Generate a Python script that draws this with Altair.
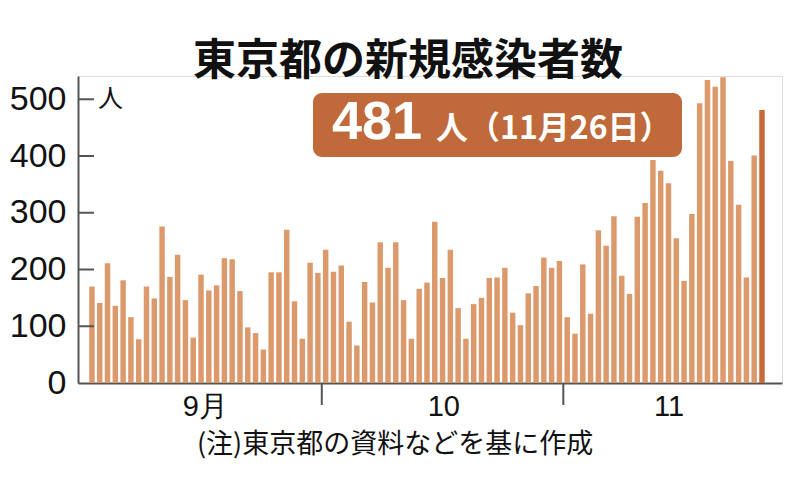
import altair as alt
import pandas as pd

# Daily new cases in Tokyo, 2020-09-01 .. 2020-11-26
sep = [170, 141, 211, 136, 181, 116, 77, 170, 149, 276, 187, 226, 146, 80, 191,
       163, 172, 220, 218, 162, 98, 88, 59, 195, 195, 270, 144, 78, 212, 194]
oct_ = [235, 196, 207, 108, 66, 178, 142, 248, 203, 248, 146, 78, 166, 177, 284,
        185, 235, 132, 78, 139, 150, 185, 186, 203, 124, 102, 158, 171, 221, 203, 215]
nov = [116, 87, 209, 122, 269, 242, 294, 189, 157, 293, 317, 393, 374, 352, 255,
       180, 298, 493, 534, 522, 539, 391, 314, 186, 401, 481]

cases = sep + oct_ + nov
dates = [f"9/{d}" for d in range(1, 31)] + [f"10/{d}" for d in range(1, 32)] + [f"11/{d}" for d in range(1, 27)]

month_labels = ["9月", "10", "11"]
month_label_pos = [14.5, 45.1, 74.0]
month_bounds = [29.5, 60.5]
y_ticks = [100, 200, 300, 400, 500]

title_text = "東京都の新規感染者数"
badge_big = "481"
badge_small = "人（11月26日）"
note_text = "(注)東京都の資料などを基に作成"
unit_text = "人"

LIGHT = "#dc9a6c"
DARK = "#c56a38"
BADGE = "#c06a3b"
AXIS = "#555555"
NUMFONT = "Liberation Sans Narrow, Arial Narrow, Liberation Sans, sans-serif"
JPFONT = "Noto Sans CJK JP"

W, H = 704, 307
XMIN, XMAX = -1.79, 88.57
YMAX = 541

df = pd.DataFrame({
    "i": list(range(len(cases))),
    "date": dates,
    "cases": cases,
})
df["x0"] = df["i"] - 0.35
df["x1"] = df["i"] + 0.35
df["zero"] = 0
df["last"] = df["i"] == len(cases) - 1

xscale = alt.Scale(domain=[XMIN, XMAX], nice=False, zero=False)
yscale = alt.Scale(domain=[0, YMAX], nice=False)

label_expr = ("datum.value < 30 ? '" + month_labels[0] + "' : (datum.value < 61 ? '"
              + month_labels[1] + "' : '" + month_labels[2] + "')")

bars = alt.Chart(df).mark_bar().encode(
    x=alt.X("x0:Q", scale=xscale,
            axis=alt.Axis(values=month_label_pos, ticks=False, grid=False,
                          domainColor=AXIS, domainWidth=2,
                          labelExpr=label_expr,
                          labelFont=NUMFONT, labelFontSize=29, labelColor="#111",
                          labelPadding=9, title=None)),
    x2="x1:Q",
    y=alt.Y("cases:Q", scale=yscale,
            axis=alt.Axis(values=[0] + y_ticks, ticks=False, grid=False,
                          domainColor=AXIS, domainWidth=2,
                          labelFont=NUMFONT, labelFontSize=34, labelColor="#111",
                          labelPadding=12, title=None)),
    y2="zero:Q",
    color=alt.condition("datum.last", alt.value(DARK), alt.value(LIGHT)),
    tooltip=["date:N", "cases:Q"],
)

ytick_df = pd.DataFrame({"v": y_ticks})
yticks = alt.Chart(ytick_df).mark_rule(color=AXIS, strokeWidth=2).encode(
    y=alt.Y("v:Q", scale=yscale),
    x=alt.value(0), x2=alt.value(16),
)

unit = alt.Chart(pd.DataFrame({"v": [500], "t": [unit_text]})).mark_text(
    align="left", baseline="middle", font=JPFONT, fontSize=25, color="#111", dx=20
).encode(y=alt.Y("v:Q", scale=yscale), x=alt.value(0), text="t:N")

bound_df = pd.DataFrame({"b": month_bounds})
xticks = alt.Chart(bound_df).mark_rule(color=AXIS, strokeWidth=2).encode(
    x=alt.X("b:Q", scale=xscale),
    y=alt.value(H), y2=alt.value(H + 22),
)

badge = alt.Chart(pd.DataFrame({"a": [0]})).mark_rect(
    color=BADGE, cornerRadius=9
).encode(x=alt.value(235), x2=alt.value(604), y=alt.value(17), y2=alt.value(81))

badge_t1 = alt.Chart(pd.DataFrame({"t": [badge_big]})).mark_text(
    align="left", baseline="alphabetic", font="Liberation Sans", fontWeight="bold",
    fontSize=54, color="white"
).encode(x=alt.value(254), y=alt.value(63), text="t:N")

badge_t2 = alt.Chart(pd.DataFrame({"t": [badge_small]})).mark_text(
    align="left", baseline="alphabetic", font=JPFONT, fontWeight="bold",
    fontSize=32, color="white"
).encode(x=alt.value(358), y=alt.value(63), text="t:N")

note = alt.Chart(pd.DataFrame({"t": [note_text]})).mark_text(
    align="center", baseline="middle", font=JPFONT, fontSize=27, color="#111"
).encode(x=alt.value(317), y=alt.value(369), text="t:N")

chart = alt.layer(bars, yticks, unit, xticks, badge, badge_t1, badge_t2, note).properties(
    width=W, height=H,
    title=alt.TitleParams(title_text, font=JPFONT, fontSize=43, fontWeight="bold",
                          color="#111", anchor="middle", dx=-22, offset=-8),
    autosize=alt.AutoSizeParams(type="none"),
    padding={"left": 70, "top": 68, "right": 10, "bottom": 106},
).configure_view(stroke=None).configure(background="white")

chart.save("out.html", embed_options={"renderer": "svg", "actions": False})
